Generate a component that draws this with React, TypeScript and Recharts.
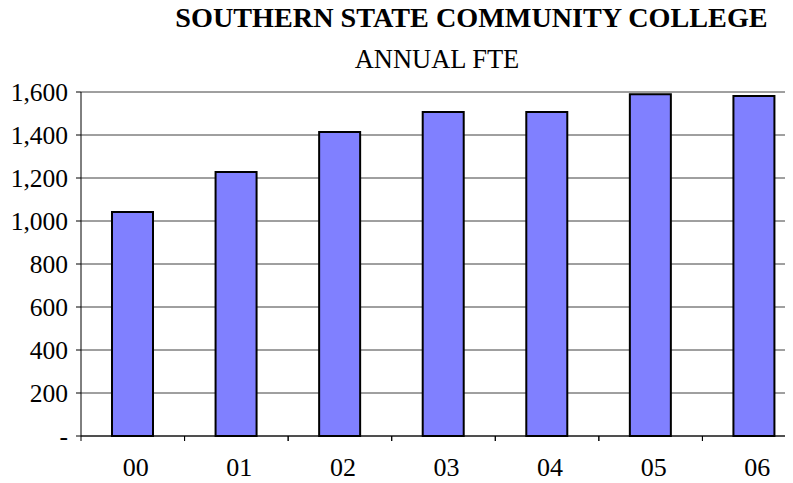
import React from "react";
import { BarChart, Bar, XAxis, YAxis, CartesianGrid } from "recharts";

const years = ["00", "01", "02", "03", "04", "05", "06"];
const fte = [1042, 1228, 1414, 1507, 1507, 1589, 1581];
const yTicks = [0, 200, 400, 600, 800, 1000, 1200, 1400, 1600];

const data = years.map((y, i) => ({ year: y, fte: fte[i] }));

const FONT = '"Liberation Serif", "Times New Roman", serif';

const fmt = (v: number) => (v === 0 ? "-" : v.toLocaleString("en-US"));

const XTick = (props: any) => {
  const { x, y, payload } = props;
  const half = payload && typeof payload.offset === "number" && payload.offset > 0 ? payload.offset : 51.8;
  return (
    <g>
      <line x1={x - half} x2={x - half} y1={y - 22} y2={y - 17} stroke="#000" strokeWidth={1} />
      <line x1={x + half} x2={x + half} y1={y - 22} y2={y - 17} stroke="#000" strokeWidth={1} />
      <text x={x + 3} y={y} dy="0.71em" textAnchor="middle" fill="#000" fontSize={26} fontFamily={FONT}>
        {payload.value}
      </text>
    </g>
  );
};

export default function App() {
  return (
    <div style={{ position: "relative", margin: "-8px 0 0 -8px", width: 793, height: 483, overflow: "hidden", background: "#fff" }}>
      <svg width={793} height={90} style={{ position: "absolute", left: 0, top: 0 }}>
        <text x={471.5} y={27} textAnchor="middle" fontFamily={FONT} fontWeight="bold" fontSize={28.2} fill="#000">
          SOUTHERN STATE COMMUNITY COLLEGE
        </text>
        <text x={437} y={68} textAnchor="middle" fontFamily={FONT} fontSize={26.5} fill="#000">
          ANNUAL FTE
        </text>
      </svg>
      <div style={{ position: "absolute", left: 8, top: 8 }}>
        <BarChart width={800} height={475} data={data} margin={{ top: 84, right: 2, left: 0, bottom: 0 }}>
          <CartesianGrid vertical={false} stroke="#404040" strokeWidth={1} />
          <XAxis
            dataKey="year"
            height={47}
            tickLine={false}
            tickSize={0}
            tickMargin={22}
            axisLine={{ stroke: "#000" }}
            tick={<XTick />}
            interval={0}
          />
          <YAxis
            width={73}
            domain={[0, 1600]}
            ticks={yTicks}
            tickFormatter={fmt}
            tickSize={5}
            tickMargin={8}
            axisLine={{ stroke: "#000" }}
            tickLine={{ stroke: "#000" }}
            tick={{ fill: "#000", fontSize: 25.5, fontFamily: FONT }}
            interval={0}
          />
          <Bar dataKey="fte" fill="#8080FF" stroke="#000" strokeWidth={2} barSize={41} isAnimationActive={false} />
        </BarChart>
      </div>
    </div>
  );
}
